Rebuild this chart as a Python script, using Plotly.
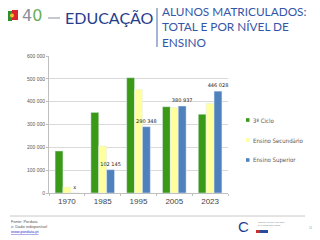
import plotly.graph_objects as go

years = ["1970", "1985", "1995", "2005", "2023"]
ciclo3 = [184000, 353000, 505000, 378000, 345000]
secundario = [26000, 206000, 454000, 374000, 393000]
superior = [0, 102145, 290348, 380937, 446028]
superior_labels = ["x", "102 145", "290 348", "380 937", "446 028"]
series_names = ["3º Ciclo", "Ensino Secundário", "Ensino Superior"]
series_colors = ["#3a9a17", "#ffff9e", "#4f81bd"]
ytick_vals = [0, 100000, 200000, 300000, 400000, 500000, 600000]
ytick_text = ["0", "100 000", "200 000", "300 000", "400 000", "500 000", "600 000"]

fig = go.Figure()
fig.add_bar(x=years, y=ciclo3, name=series_names[0], marker_color=series_colors[0])
fig.add_bar(x=years, y=secundario, name=series_names[1], marker_color=series_colors[1])
fig.add_bar(x=years, y=superior, name=series_names[2], marker_color=series_colors[2],
            text=superior_labels, textposition="outside", cliponaxis=False,
            textfont=dict(size=5, color="#222", family="Arial Black, DejaVu Sans"))

fig.update_layout(
    width=320, height=240,
    margin=dict(l=49, r=92, t=56, b=47),
    paper_bgcolor="white", plot_bgcolor="white",
    barmode="group", bargap=0.34, bargroupgap=0,
    font=dict(family="Liberation Sans, Arial", color="#555"),
    uniformtext=dict(minsize=4, mode="show"),
    showlegend=False,
)
fig.update_xaxes(showline=True, linecolor="#bfbfbf", ticks="outside", ticklen=2,
                 tickcolor="#bfbfbf", tickson="boundaries",
                 tickfont=dict(size=8, color="#444", family="Liberation Sans, Arial"))
fig.update_yaxes(range=[0, 600000], tickvals=ytick_vals, ticktext=ytick_text,
                 showgrid=True, gridcolor="#d9d9d9", gridwidth=1,
                 showline=True, linecolor="#bfbfbf", ticks="outside", ticklen=2,
                 tickcolor="#bfbfbf", zeroline=False,
                 tickfont=dict(size=5, color="#555"))

W, H = 320.0, 240.0
pw = W - 49 - 92
ph = H - 56 - 47
def px(x):
    return (x - 49) / pw
def py(y):
    return (H - 47 - y) / ph

# custom legend
for i, (nm, col) in enumerate(zip(series_names, series_colors)):
    yc = 120 + 20 * i
    fig.add_shape(type="rect", xref="paper", yref="paper", x0=px(246), x1=px(249.5),
                  y0=py(yc + 1.8), y1=py(yc - 1.8), fillcolor=col, line=dict(width=0))
    fig.add_annotation(xref="paper", yref="paper", x=px(251), y=py(yc), xanchor="left",
                       yanchor="middle", text=nm, showarrow=False,
                       font=dict(size=6, family="DejaVu Sans Condensed, DejaVu Sans", color="#555"))

# Header: flag-like icon
fig.add_shape(type="rect", xref="paper", yref="paper", x0=px(8), x1=px(12), y0=py(21), y1=py(11),
              fillcolor="#2f8f2f", line=dict(width=0))
fig.add_shape(type="rect", xref="paper", yref="paper", x0=px(12), x1=px(18), y0=py(20), y1=py(10),
              fillcolor="#d9262b", line=dict(width=0))
fig.add_shape(type="circle", xref="paper", yref="paper", x0=px(10), x1=px(14), y0=py(17.5), y1=py(13.5),
              fillcolor="#f2c22f", line=dict(width=0))
fig.add_annotation(xref="paper", yref="paper", x=px(20), y=py(16), xanchor="left", yanchor="middle",
                   text="<span style='color:#8a8fa0'>4</span><span style='color:#6aae5a'>0</span>",
                   showarrow=False, font=dict(size=16, family="DejaVu Sans, Liberation Sans"))
fig.add_shape(type="line", xref="paper", yref="paper", x0=px(48), x1=px(60), y0=py(18), y1=py(18),
              line=dict(color="#8a8fa0", width=1))
fig.add_annotation(xref="paper", yref="paper", x=px(63), y=py(17), xanchor="left", yanchor="middle",
                   text="EDUCAÇÃO", showarrow=False,
                   font=dict(size=16, family="Lato, Liberation Sans", color="#263d8c"))
fig.add_shape(type="line", xref="paper", yref="paper", x0=px(157), x1=px(157), y0=py(8), y1=py(47),
              line=dict(color="#4a6ab0", width=1))
fig.add_annotation(xref="paper", yref="paper", x=px(160), y=py(27), xanchor="left", yanchor="middle",
                   text="ALUNOS MATRICULADOS:<br>TOTAL E POR NÍVEL DE<br>ENSINO", align="left",
                   showarrow=False,
                   font=dict(size=11.8, family="Lato, Liberation Sans", color="#3456a8"))

# Footer
fig.add_shape(type="line", xref="paper", yref="paper", x0=px(10), x1=px(305), y0=py(216), y1=py(216),
              line=dict(color="#c8c8c8", width=1))
fig.add_annotation(xref="paper", yref="paper", x=px(9), y=py(226), xanchor="left", yanchor="middle",
                   text="Fonte: Pordata<br>x: Dado indisponível<br><span style='color:#3333cc'><u>www.pordata.pt</u></span>",
                   align="left", showarrow=False,
                   font=dict(size=4, family="Liberation Sans", color="#555"))
fig.add_annotation(xref="paper", yref="paper", x=px(243), y=py(226), xanchor="center", yanchor="middle",
                   text="C", showarrow=False,
                   font=dict(size=15, family="Liberation Sans", color="#1f3f8f"))
fig.add_shape(type="rect", xref="paper", yref="paper", x0=px(256), x1=px(268), y0=py(233), y1=py(230),
              fillcolor="#2b4a9a", line=dict(width=0))
fig.add_shape(type="rect", xref="paper", yref="paper", x0=px(256), x1=px(260), y0=py(233), y1=py(230),
              fillcolor="#c83030", line=dict(width=0))
fig.add_annotation(xref="paper", yref="paper", x=px(256), y=py(224), xanchor="left", yanchor="middle",
                   text="COMISSÃO ORGANIZADORA<br>DAS COMEMORAÇÕES", align="left", showarrow=False,
                   font=dict(size=2, family="Liberation Sans", color="#888"))
fig.add_annotation(xref="paper", yref="paper", x=px(310), y=py(228), xanchor="center", yanchor="middle",
                   text="11", showarrow=False,
                   font=dict(size=3, family="Liberation Sans", color="#999"))

fig.write_html("out.html")
